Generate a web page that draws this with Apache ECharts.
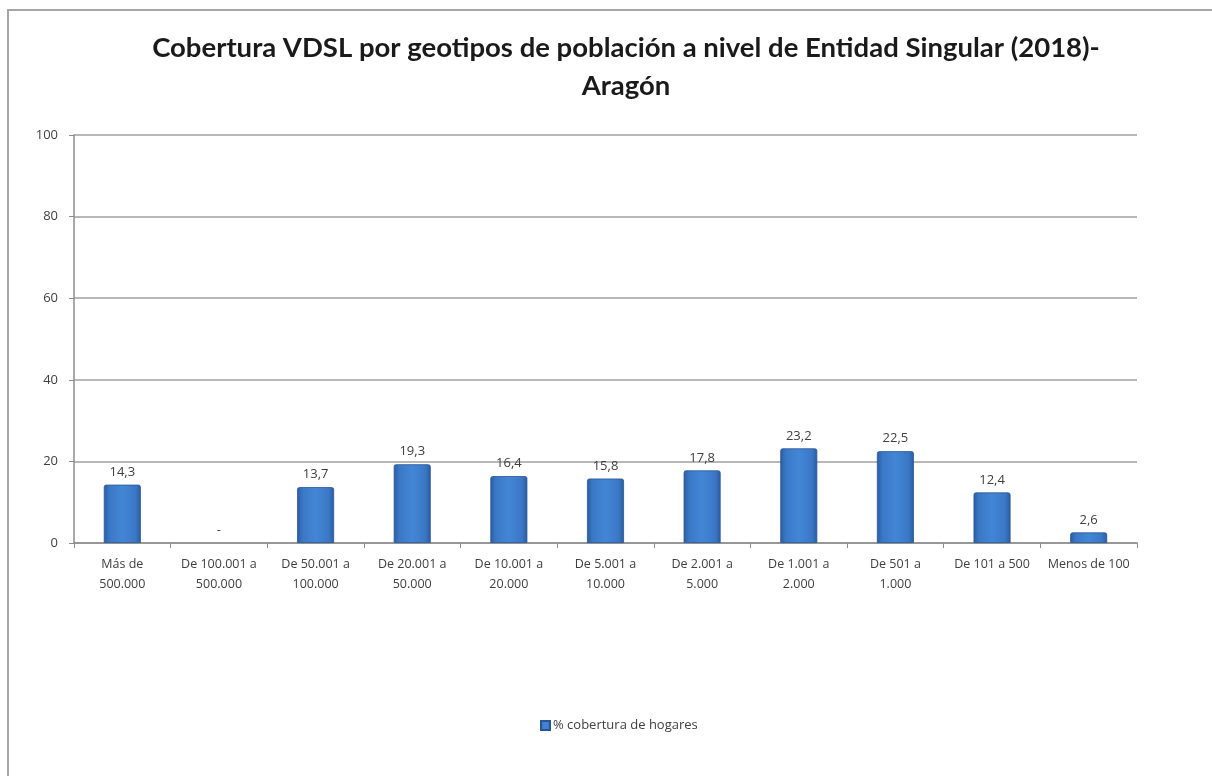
<!DOCTYPE html>
<html>
<head>
<meta charset="utf-8">
<script src="https://cdn.jsdelivr.net/npm/echarts@6/dist/echarts.min.js"></script>
<style>
html,body{margin:0;padding:0;background:#fff;}
#c{width:1212px;height:776px;}
</style>
</head>
<body>
<div id="c"></div>
<script>
const titleText = 'Cobertura VDSL por geotipos de población a nivel de Entidad Singular (2018)-\nAragón';
const categories = ['Más de\n500.000','De 100.001 a\n500.000','De 50.001 a\n100.000','De 20.001 a\n50.000','De 10.001 a\n20.000','De 5.001 a\n10.000','De 2.001 a\n5.000','De 1.001 a\n2.000','De 501 a\n1.000','De 101 a 500','Menos de 100'];
const seriesName = '% cobertura de hogares';
const values = [14.3, null, 13.7, 19.3, 16.4, 15.8, 17.8, 23.2, 22.5, 12.4, 2.6];
const yTicks = [0, 20, 40, 60, 80, 100];

const chart = echarts.init(document.getElementById('c'));
const barColor = new echarts.graphic.LinearGradient(0,0,1,0,[
  {offset:0,color:'#2a5c9f'},
  {offset:0.15,color:'#3a78c6'},
  {offset:0.5,color:'#4386d6'},
  {offset:0.85,color:'#3a78c6'},
  {offset:1,color:'#2a5c9f'}
]);
const data = values.map(v => v === null
  ? {value:0, isNull:true, itemStyle:{opacity:0}, label:{opacity:1}}
  : {value:v});
chart.setOption({
  backgroundColor:'#fff',
  animation:false,
  title:{
    text:titleText,
    left:621, top:24, textAlign:'center',
    textStyle:{fontFamily:'Lato', fontWeight:'bold', fontSize:27.5, color:'#1a1a1a', lineHeight:38}
  },
  graphic:[
    {type:'line', shape:{x1:7,y1:10,x2:1212,y2:10}, style:{stroke:'#a6a6a6', lineWidth:2}},
    {type:'line', shape:{x1:8,y1:10,x2:8,y2:776}, style:{stroke:'#a6a6a6', lineWidth:2}}
  ],
  legend:{
    data:[seriesName],
    left:535, top:714,
    itemWidth:9, itemHeight:9, itemGap:4,
    icon:'rect',
    textStyle:{fontFamily:'Open Sans', fontSize:13, color:'#404040', padding:[0,0,0,-2]}
  },
  grid:{left:74, right:75, top:135, bottom:233, containLabel:false},
  xAxis:{
    type:'category',
    data:categories,
    axisLine:{lineStyle:{color:'#8c8c8c', width:1.5}},
    axisTick:{show:true, alignWithLabel:false, length:5, lineStyle:{color:'#8c8c8c'}},
    axisLabel:{interval:0, fontFamily:'Open Sans', fontSize:12.5, color:'#404040', lineHeight:20, margin:11}
  },
  yAxis:{
    type:'value', min:0, max:100, interval:20,
    axisLine:{show:true, lineStyle:{color:'#8c8c8c', width:1.5}},
    axisTick:{show:true, length:5, lineStyle:{color:'#8c8c8c'}},
    splitLine:{lineStyle:{color:'#a0a0a0', width:1.5}},
    axisLabel:{fontFamily:'Open Sans', fontSize:13, color:'#404040', margin:16,
      formatter: v => yTicks.includes(v) ? String(v) : ''}
  },
  series:[{
    name:seriesName,
    type:'bar',
    data:data,
    barWidth:37,
    itemStyle:{color:barColor, borderColor:'#2a5594', borderWidth:0.8, borderRadius:[2,2,0,0]},
    label:{
      show:true, position:'top', distance:6,
      fontFamily:'Open Sans', fontSize:13, color:'#404040',
      formatter: p => p.data.isNull ? '-' : String(p.value).replace('.', ',')
    }
  }]
});
</script>
</body>
</html>
